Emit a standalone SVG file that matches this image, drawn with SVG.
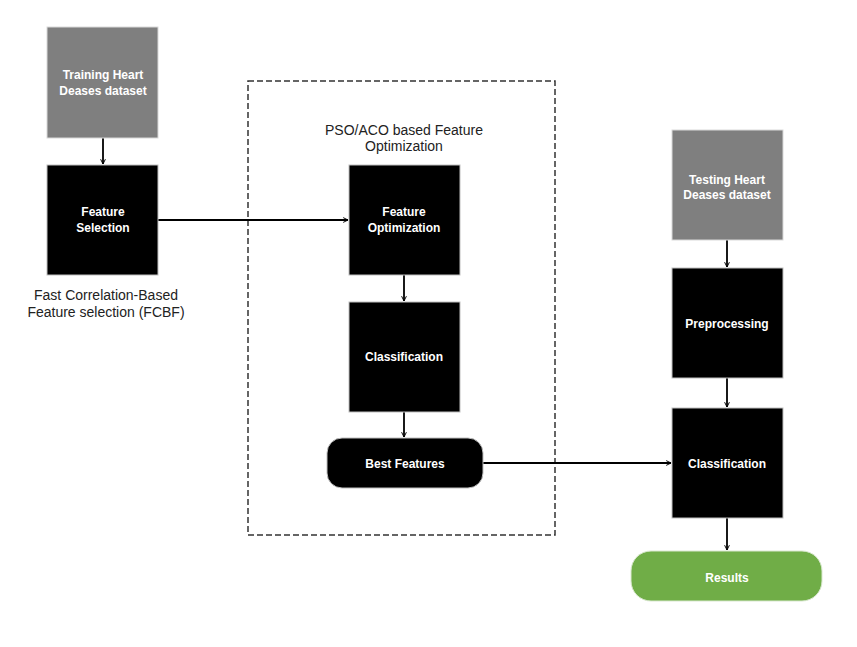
<svg xmlns="http://www.w3.org/2000/svg" width="857" height="647" viewBox="0 0 857 647">
<style>
.gray{fill:#7f7f7f;stroke:#d9d9d9;stroke-width:1}
.blk{fill:#000;stroke:#bfbfbf;stroke-width:1}
.lbl{font-family:"Liberation Sans",Arial,sans-serif;font-size:12px;font-weight:bold;fill:#fff;text-anchor:middle}
.note{font-family:"Liberation Sans",Arial,sans-serif;font-size:14px;fill:#222;text-anchor:middle}
.con{stroke:#000;stroke-width:1.8;fill:none;marker-end:url(#arr)}
</style>
<defs>
<marker id="arr" viewBox="0 0 10 10" refX="9" refY="5" markerWidth="6" markerHeight="6" orient="auto" markerUnits="userSpaceOnUse">
<path d="M1,1 L9,5 L1,9" fill="none" stroke="#000" stroke-width="1.6"/>
</marker>
</defs>
<rect width="857" height="647" fill="#fff"/>
<g id="optimization-group">
<rect x="248" y="81" width="307" height="454" fill="none" stroke="#333" stroke-width="1.5" stroke-dasharray="6,3"/>
<text class="note" x="404" y="135">PSO/ACO based Feature</text>
<text class="note" x="404" y="151">Optimization</text>
</g>
<g id="connectors">
<line class="con" x1="103" y1="138" x2="103" y2="164"/>
<line class="con" x1="158" y1="220" x2="348" y2="220"/>
<line class="con" x1="404" y1="275" x2="404" y2="301"/>
<line class="con" x1="404" y1="412" x2="404" y2="437"/>
<line class="con" x1="483" y1="463" x2="671" y2="463"/>
<line class="con" x1="727" y1="240" x2="727" y2="267"/>
<line class="con" x1="727" y1="378" x2="727" y2="407"/>
<line class="con" x1="727" y1="518" x2="727" y2="550"/>
</g>
<g id="training">
<rect class="gray" x="47" y="27" width="111" height="111"/>
<text class="lbl" x="103" y="79">Training Heart</text>
<text class="lbl" x="103" y="95">Deases dataset</text>
</g>
<g id="feature-selection">
<rect class="blk" x="47" y="165" width="111" height="110"/>
<text class="lbl" x="103" y="216">Feature</text>
<text class="lbl" x="103" y="232">Selection</text>
<text class="note" x="106" y="300">Fast Correlation-Based</text>
<text class="note" x="106" y="317">Feature selection (FCBF)</text>
</g>
<g id="feature-optimization">
<rect class="blk" x="349" y="165" width="111" height="110"/>
<text class="lbl" x="404" y="216">Feature</text>
<text class="lbl" x="404" y="232">Optimization</text>
</g>
<g id="classification-1">
<rect class="blk" x="349" y="302" width="111" height="110"/>
<text class="lbl" x="404" y="361">Classification</text>
</g>
<g id="best-features">
<rect class="blk" x="327" y="438" width="156" height="50" rx="15"/>
<text class="lbl" x="405" y="468">Best Features</text>
</g>
<g id="testing">
<rect class="gray" x="672" y="130" width="111" height="110"/>
<text class="lbl" x="727" y="184">Testing Heart</text>
<text class="lbl" x="727" y="199">Deases dataset</text>
</g>
<g id="preprocessing">
<rect class="blk" x="672" y="268" width="111" height="110"/>
<text class="lbl" x="727" y="328">Preprocessing</text>
</g>
<g id="classification-2">
<rect class="blk" x="672" y="408" width="111" height="110"/>
<text class="lbl" x="727" y="468">Classification</text>
</g>
<g id="results">
<rect x="631" y="551" width="191" height="50" rx="20" fill="#70ad47" stroke="#d9e8cf" stroke-width="1"/>
<text class="lbl" x="727" y="582">Results</text>
</g>
</svg>
